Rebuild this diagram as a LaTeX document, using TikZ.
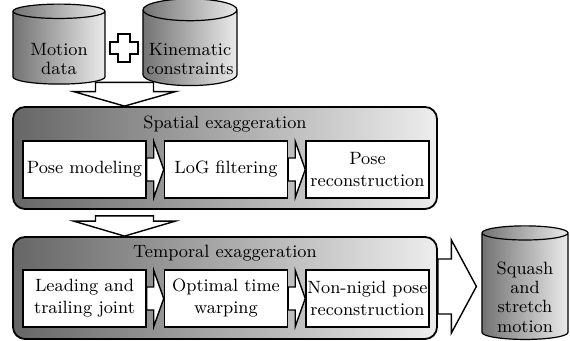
\documentclass[tikz,border=0pt]{standalone}
\usepackage{fontspec}
\usetikzlibrary{shapes.geometric, positioning, calc}
\tikzset{
  panel/.style    = {rectangle, rounded corners=6pt, draw=black, line width=0.9pt,
                     left color=black!60, right color=black!7,
                     minimum width=212pt, minimum height=51pt},
  stage/.style    = {rectangle, draw=black, fill=white, line width=0.75pt,
                     minimum width=61.5pt, minimum height=28.5pt, inner sep=0pt,
                     align=center, font=\fontsize{8.9}{11}\selectfont},
  paneltitle/.style = {inner sep=0pt, font=\fontsize{8.9}{11}\selectfont},
  store/.style    = {cylinder, shape border rotate=90, aspect=0.25, draw=black,
                     line width=0.6pt, left color=black!55, right color=black!8,
                     inner sep=0pt, align=center,
                     font=\fontsize{8.9}{9.6}\selectfont},
  blockarrow/.style = {draw=black, fill=white, line width=0.7pt},
  % horizontal block arrow: shaft half height, head half height, head length
  rblock/.style n args = {3}{blockarrow, to path={
      let \p1=(\tikztostart), \p2=(\tikztotarget) in
      (\x1,\y2+#1) -- (\x2-#3,\y2+#1) -- (\x2-#3,\y2+#2) -- (\x2,\y2)
      -- (\x2-#3,\y2-#2) -- (\x2-#3,\y2-#1) -- (\x1,\y2-#1) -- cycle}},
  % downward block arrow: shaft half width, head half width, head length
  dblock/.style n args = {3}{blockarrow, to path={
      let \p1=(\tikztostart), \p2=(\tikztotarget) in
      (\x2-#1,\y1) -- (\x2-#1,\y2+#3) -- (\x2-#2,\y2+#3) -- (\x2,\y2)
      -- (\x2+#2,\y2+#3) -- (\x2+#1,\y2+#3) -- (\x2+#1,\y1) -- cycle}},
}
% pushes the text of a store below its top end
\newcommand{\lowered}{\rule{0pt}{17pt}}

\begin{document}
\begin{tikzpicture}
  \useasboundingbox (0,0) rectangle (285pt,170.5pt);

    % ── Panels ────────────────────────────────────────────────────
    \node[panel] (sp) at (112.5pt,91.5pt) {};
    \node[paneltitle, below=4.5pt of sp.north] (sptitle) {Spatial exaggeration};

    \node[panel] (tp) at (112.5pt,26.5pt) {};
    \node[paneltitle, below=4.5pt of tp.north] (tptitle) {Temporal exaggeration};

    % ── Spatial stages ────────────────────────────────────────────
    \node[stage] (pm) at (42.25pt,85.75pt) {Pose modeling};
    \node[stage, right=8.5pt of pm] (lf) {LoG filtering};
    \node[stage, right=8.5pt of lf] (pr) {Pose\\ reconstruction};

    % ── Temporal stages ───────────────────────────────────────────
    \node[stage] (lt) at (42.25pt,21.25pt) {Leading and\\ trailing joint};
    \node[stage, right=8.5pt of lt] (tw) {Optimal time\\ warping};
    \node[stage, right=8.5pt of tw] (nr) {Non-nigid pose\\ reconstruction};

    % ── Stores ────────────────────────────────────────────────────
    \node[store, minimum width=46pt, minimum height=40pt] (md)
      at (29.5pt,146.5pt) {\lowered Motion\\ data};
    \node[store, minimum width=47pt, minimum height=40pt] (kc)
      at (95pt,146.5pt) {\lowered Kinematic\\ constraints};
    \node[store, minimum width=43pt, minimum height=53.5pt] (out)
      at (262.5pt,27.25pt) {\lowered Squash\\ and\\ stretch\\ motion};

    % ── Arrows ────────────────────────────────────────────────────
    \coordinate (in1) at ($(md.south)!0.5!(kc.south)+(0,1.5pt)$);
    \coordinate (in2) at ($(in1 |- sp.south)+(0,-3pt)$);
    \draw[dblock={14.5pt}{25.5pt}{7.25pt}] (in1) to (in1 |- sp.north);
    \draw[dblock={14.5pt}{25.5pt}{7.5pt}] (in2) to (in2 |- tp.north);

    \draw[rblock={5.75pt}{14pt}{5pt}] (pm.east) to (lf.west);
    \draw[rblock={5.75pt}{14pt}{5pt}] (lf.east) to (pr.west);
    \draw[rblock={5.75pt}{14pt}{5pt}] (lt.east) to (tw.west);
    \draw[rblock={5.75pt}{14pt}{5pt}] (tw.east) to (nr.west);
    \draw[rblock={13.75pt}{23.25pt}{12.5pt}] (tp.east) to ($(out.west)+(-2.5pt,0)$);

    % plus sign between the two stores
    \coordinate (plus) at ($(md.east)!0.5!(kc.west)$);
    \draw[blockarrow] ($(plus)+(-3pt,7pt)$) -- ++(6pt,0) -- ++(0,-4pt) -- ++(4pt,0)
      -- ++(0,-6pt) -- ++(-4pt,0) -- ++(0,-4pt) -- ++(-6pt,0) -- ++(0,4pt)
      -- ++(-4pt,0) -- ++(0,6pt) -- ++(4pt,0) -- cycle;

  \end{tikzpicture}
\end{document}
